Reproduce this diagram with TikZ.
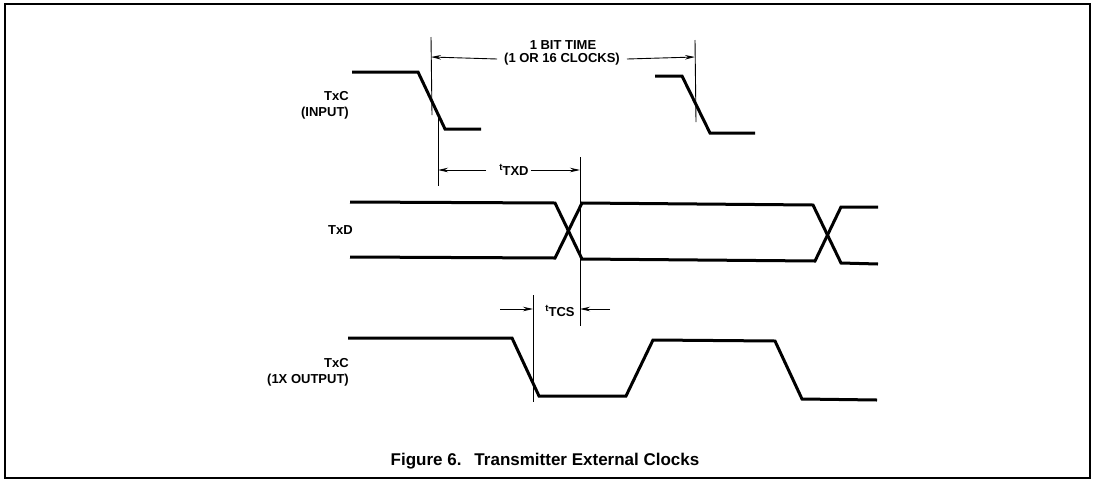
\documentclass[tikz,border=0pt]{standalone}
\usepackage{fontspec}
\setmainfont{Liberation Sans}
\usetikzlibrary{arrows.meta}
\begin{document}
\begin{tikzpicture}[x=1pt,y=-1pt,
  wave/.style={line width=3pt, line join=miter, line cap=butt},
  marker/.style={line width=0.9pt},
  dimarr/.style={line width=0.9pt,-{Stealth[length=10pt,width=4.5pt]}},
  lbl/.style={font=\fontsize{13}{15}\selectfont\bfseries, align=center, inner sep=1pt},
  sidelbl/.style={font=\fontsize{13}{16}\selectfont\bfseries, align=right, inner sep=0pt, anchor=east},
  captext/.style={font=\fontsize{17}{19}\selectfont\bfseries, inner sep=1pt}]
\useasboundingbox (0,0) rectangle (1097,488);
\draw[line width=1.8pt] (5,4) rectangle (1090,478);

% labels
\node[sidelbl] (lin) at (349,105) {TxC\\(INPUT)};
\node[sidelbl] (ltxd) at (353,230) {TxD};
\node[sidelbl] (lout) at (349,372) {TxC\\(1X OUTPUT)};

% TxC input waveform
\draw[wave] (352,72) -- (418,72) -- (445,129) -- (481,129);
\draw[wave] (655,76) -- (682,76) -- (710,133) -- (755,133);

% TxD waveform
\draw[wave] (350,202) -- (555,203) -- (582,259) -- (815,261) -- (841,207) -- (878,207);
\draw[wave] (350,257) -- (555,258) -- (582,203) -- (813,205) -- (841,263) -- (878,264);

% TxC output waveform
\draw[wave] (348,338) -- (512,338) -- (539,396) -- (626,396) -- (653,340) -- (775,341) -- (802,399) -- (877,400);

% marker lines
\coordinate (m1top) at (431,37);
\coordinate (m1) at (431,57);
\coordinate (m1mid) at (432,115);
\coordinate (m1b) at (438,170);
\draw[marker] (m1top) -- (m1mid);
\draw[marker] (438,115) -- (438,186);
\coordinate (m2top) at (695,40);
\coordinate (m2) at (695,57);
\draw[marker] (m2top) -- (696,122);
\coordinate (m3top) at (580,157);
\coordinate (m3a) at (580,170);
\coordinate (m3b) at (580,309);
\draw[marker] (m3top) -- (580,326);
\coordinate (m4top) at (533,295);
\coordinate (m4) at (533,309);
\draw[marker] (m4top) -- (533,402);

% 1 BIT TIME
\node[lbl] (bitA) at (563,45) {1 BIT TIME};
\node[lbl] (bitB) at (562,59) {(1 OR 16 CLOCKS)};
\draw[dimarr] ([xshift=-6pt]bitB.west) -- (m1);
\draw[dimarr] ([xshift=6pt]bitB.east) -- (m2);

% tTXD
\node[lbl] (txd) at (514,170) {\raisebox{4.5pt}{\fontsize{9.5}{9.5}\selectfont t}TXD};
\draw[dimarr] ([xshift=-12pt]txd.west) -- (m1b);
\draw[dimarr] ([xshift=1pt]txd.east) -- (m3a);

% tTCS
\node[lbl] (tcs) at (560,311) {\raisebox{4.5pt}{\fontsize{9.5}{9.5}\selectfont t}TCS};
\coordinate (tcsL) at (500,309);
\coordinate (tcsR) at (610,309);
\draw[dimarr] (tcsL) -- (m4);
\draw[dimarr] (tcsR) -- (m3b);

% caption
\node[captext] (caption) at (545,461) {Figure 6.\hspace{13pt}Transmitter External Clocks};
\end{tikzpicture}
\end{document}
